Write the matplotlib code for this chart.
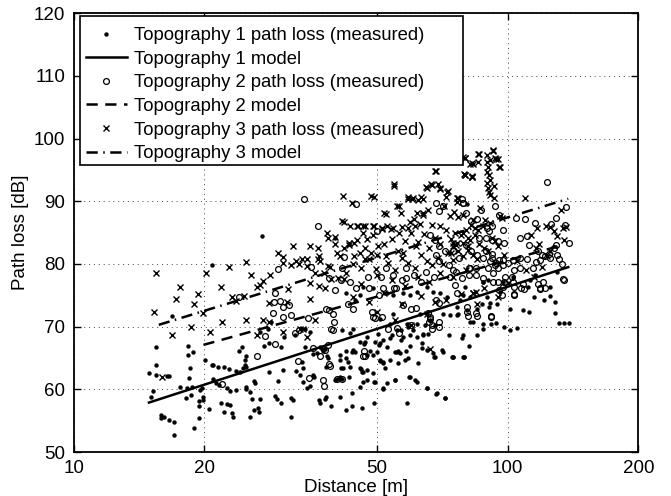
import matplotlib
matplotlib.use("Agg")
import matplotlib.pyplot as plt
from matplotlib.patches import Rectangle
from matplotlib.ticker import FixedLocator, FixedFormatter, NullLocator

plt.rcParams['font.family'] = ['Liberation Sans', 'DejaVu Sans']

# ---------------- data ----------------
# Topography 1 measured path loss (distance [m], loss [dB])
t1_dist = [14.9, 15.5, 15.5, 15.2, 15.1, 15.5, 16.4, 16.6, 15.9, 16.1, 15.9, 16.6, 17.0, 17.0,
           16.8, 17.6, 18.2, 18.7, 18.3, 18.3, 18.8, 18.5, 18.4, 18.1, 18.6, 19.4, 19.4, 19.9,
           19.9, 18.9, 19.4, 19.5, 19.7, 20.5, 20.1, 20.8, 20.9, 21.5, 22.2, 22.8, 23.6, 20.9,
           21.3, 21.6, 22.5, 22.9, 23.6, 21.8, 22.5, 22.9, 22.2, 23.3, 23.1, 24.1, 24.5, 24.8,
           25.0, 24.8, 24.9, 24.4, 25.0, 24.9, 25.5, 26.0, 26.2, 25.5, 26.0, 26.6, 26.7, 25.8,
           26.9, 28.2, 27.5, 28.2, 29.1, 29.4, 30.1, 30.4, 29.6, 31.6, 32.0, 31.6, 32.6, 33.7,
           33.2, 33.8, 34.4, 35.0, 35.5, 35.8, 35.5, 36.7, 36.9, 37.9, 38.2, 33.5, 34.1, 36.9,
           37.4, 37.9, 36.3, 38.4, 30.1, 30.5, 32.3, 34.1, 35.0, 28.1, 28.5, 26.8, 24.0, 27.2,
           20.8, 40.0,
           41.4, 43.3, 44.1, 42.5, 43.7, 41.1, 45.6, 46.6, 47.3, 49.4, 50.6, 51.7, 53.5, 55.5,
           56.9, 59.0, 60.6, 61.7, 63.9, 65.6, 63.3, 65.0, 67.3, 70.4, 74.9, 79.0, 68.0, 50.8,
           51.5, 52.1, 47.3, 46.1, 45.6, 49.0, 47.3, 49.4, 45.6, 41.1, 43.7, 51.7, 55.0, 59.5,
           61.1, 65.0, 68.6, 71.7, 41.8, 41.1, 55.0, 56.4, 55.9, 59.0, 53.5, 49.9, 50.8, 53.5,
           54.5, 58.5, 61.7, 64.5, 66.2, 68.0, 62.8, 71.0, 73.6, 76.3, 77.6, 79.0, 72.3, 69.8,
           67.3, 65.0, 61.7, 59.5, 57.4, 54.5, 52.6, 49.0, 46.5, 45.6, 44.5, 42.3,
           39.1, 42.5, 43.7, 46.1, 49.3, 58.5, 68.3, 71.6, 51.7, 65.0, 52.6, 55.0, 59.3, 61.7,
           46.5, 49.3, 62.0, 67.7, 71.0, 74.9, 79.4, 55.9, 58.3, 58.0, 50.8, 51.5, 45.8, 46.3,
           40.0, 40.4, 41.4, 43.1, 41.2, 43.3, 38.2, 38.6, 37.5, 41.1, 42.4, 42.8, 47.3, 49.0,
           48.1, 43.9, 44.4, 52.6, 55.5, 63.3, 59.5, 46.9, 50.8, 50.3, 54.0, 56.9, 57.3, 59.5,
           63.9, 73.3, 79.0,
           78.3, 74.6, 79.3, 81.4, 84.8, 87.8, 87.5, 91.5, 93.9, 98.0, 101.2, 105.2, 101.2, 108.6,
           111.9, 115.1, 121.4, 125.1, 128.4, 128.6, 91.0, 90.7, 94.3, 87.1, 84.8, 87.8, 80.4,
           81.9, 83.3, 76.3, 76.9, 131.4, 134.9, 138.4, 79.7, 87.8, 90.2, 97.6, 103.0, 112.5,
           115.5, 129.6, 111.5, 125.1, 95.9, 81.9, 89.4, 80.4]
t1_loss = [62.6, 63.9, 66.8, 59.8, 58.8, 62.3, 62.2, 62.1, 55.9, 55.6, 55.5, 55.1, 54.8, 52.7,
           71.7, 60.4, 60.2, 60.4, 67.0, 65.5, 66.0, 63.4, 61.8, 58.7, 59.1, 58.2, 57.4, 58.8,
           58.3, 53.9, 55.5, 59.9, 60.3, 56.8, 64.7, 63.9, 63.9, 63.6, 63.6, 63.3, 63.0, 61.6,
           61.0, 60.7, 60.2, 59.8, 59.9, 57.9, 57.7, 57.5, 56.4, 55.6, 56.2, 62.8, 63.4, 63.9,
           63.6, 64.7, 65.3, 66.8, 60.4, 60.0, 59.6, 61.4, 61.0, 55.6, 56.7, 57.0, 56.4, 58.5,
           58.5, 62.8, 66.9, 67.4, 59.0, 58.4, 57.8, 63.1, 61.4, 58.7, 58.3, 55.6, 63.0, 63.4,
           62.3, 61.2, 60.3, 60.5, 62.3, 61.9, 65.6, 58.3, 57.8, 58.4, 58.8, 64.4, 66.8, 66.8,
           66.4, 66.4, 65.8, 65.3, 66.8, 68.4, 68.7, 69.6, 69.2, 69.7, 70.8, 69.2, 66.2, 84.5,
           79.8, 84.1,
           69.5, 69.0, 69.7, 66.2, 66.0, 64.7, 67.6, 67.2, 68.3, 67.6, 67.1, 67.9, 68.2, 69.5,
           69.5, 70.0, 69.5, 68.4, 68.7, 68.9, 66.6, 66.3, 65.8, 66.3, 65.1, 65.2, 65.1, 64.7,
           64.2, 63.4, 63.1, 62.8, 63.4, 62.6, 61.5, 61.2, 60.4, 58.8, 59.4, 60.2, 61.5, 62.0,
           61.5, 60.3, 59.4, 58.7, 63.4, 62.0, 66.0, 65.8, 64.2, 65.0, 64.7, 66.0, 71.3, 70.5,
           72.1, 70.5, 70.5, 70.3, 71.1, 70.3, 72.1, 72.1, 71.9, 73.2, 74.3, 75.1, 74.8, 75.3,
           75.6, 76.4, 75.6, 75.1, 75.3, 75.1, 75.3, 76.1, 76.4, 75.1, 74.3, 75.3,
           57.4, 56.7, 57.4, 57.0, 57.9, 57.9, 59.3, 58.6, 60.0, 60.2, 61.0, 61.5, 61.9, 61.2,
           61.2, 61.2, 64.2, 65.1, 66.0, 65.1, 65.1, 66.2, 66.1, 64.7, 64.5, 64.4, 63.2, 62.8,
           61.5, 61.7, 61.7, 61.9, 63.4, 63.5, 63.6, 65.0, 66.2, 65.5, 65.0, 64.4, 65.5, 65.5,
           66.2, 66.3, 65.9, 66.8, 66.0, 67.4, 66.9, 67.6, 67.4, 68.9, 68.7, 67.9, 68.3, 68.7,
           68.9, 68.7, 68.7,
           68.2, 65.2, 65.2, 66.9, 68.6, 69.6, 70.4, 70.4, 70.6, 70.0, 69.5, 69.8, 72.9, 72.7,
           72.3, 74.8, 74.3, 74.9, 74.0, 72.2, 73.8, 73.2, 73.7, 73.6, 72.9, 77.2, 72.7,
           70.8, 70.8, 71.9, 72.1, 70.6, 70.6, 70.6, 76.4, 77.1, 77.4, 77.2, 78.0, 77.4,
           78.2, 78.8, 76.4, 76.4, 75.6, 74.8, 74.8, 89.6]

# Topography 2 measured path loss
t2_dist = [123.0, 136.5, 93.5, 87.0, 78.8, 95.3, 97.8, 104.6, 109.5, 115.7, 125.7, 129.0, 135.4,
           107.0, 112.2, 110.5, 117.6, 119.7, 122.2, 124.7, 128.1, 129.5, 138.2, 116.5, 131.0,
           134.3, 100.4, 103.5, 107.0, 110.5, 92.1, 90.9, 97.8, 94.1, 98.5, 102.5, 108.6, 117.6,
           120.6, 119.0, 92.5, 95.3, 97.7, 103.5, 107.2, 81.9, 84.6, 87.8, 90.2, 93.5,
           44.7, 68.3, 79.0, 78.6, 50.0, 71.1, 69.6, 80.0, 82.4, 84.9, 89.8, 92.0, 90.5, 86.1,
           88.9, 92.0, 95.1, 98.3, 66.1, 67.9, 69.6, 71.8, 74.7, 77.4, 80.0, 82.4, 84.9, 88.9,
           68.3, 69.6, 73.4, 76.1, 78.6, 81.5, 60.9, 63.2, 64.9, 67.5, 57.0, 58.4, 52.4, 51.0,
           54.3, 55.2, 47.6, 48.0, 44.8, 43.2,
           36.5, 29.5, 24.0, 28.9, 29.8, 30.3, 31.4, 35.3, 38.7, 41.6, 30.3, 31.7, 34.7, 38.7,
           39.7, 32.3, 33.1, 40.1, 42.0, 41.3, 34.0, 29.1, 28.8,
           26.4, 21.9, 27.6, 29.1, 32.8, 34.8, 37.6,
           42.8, 43.9, 48.8, 49.5, 46.6, 55.7, 57.3, 59.9, 61.6, 68.3, 69.6, 65.5, 66.1, 66.8,
           69.3, 80.7, 50.5, 51.5, 54.7, 58.2,
           37.7, 38.9, 40.5, 41.4, 46.4, 37.9, 39.6, 39.2, 49.0, 51.2, 53.0, 56.2, 60.0, 66.8,
           69.3, 66.3, 65.8, 96.8, 103.5, 91.3, 80.5, 38.2, 39.6,
           81.2, 84.4, 85.1, 91.5, 103.5, 108.9, 118.9, 121.6, 134.8, 133.3, 114.6, 118.9, 125.0,
           129.6, 95.6, 97.6, 103.0, 106.6, 87.6, 91.8, 81.6, 84.4, 95.1, 98.0, 102.7, 92.4, 95.1,
           74.9, 73.6, 75.6, 76.3, 38.8, 37.0, 38.6, 35.6, 47.0]
t2_loss = [93.0, 89.1, 89.3, 88.6, 89.7, 87.8, 85.4, 87.3, 87.1, 86.6, 86.4, 87.3, 86.2,
           84.1, 83.0, 84.4, 82.0, 81.5, 81.2, 81.6, 82.6, 83.0, 83.4, 80.3, 80.8,
           77.6, 80.2, 79.0, 79.4, 80.8, 81.6, 80.4, 80.7, 80.2, 77.9, 77.9, 76.8, 76.8,
           77.1, 76.2, 77.1, 75.9, 76.4, 76.4, 76.2, 79.4, 79.4, 77.8, 79.4, 79.9,
           89.6, 89.7, 89.8, 90.4, 85.2, 89.2, 88.4, 88.1, 86.8, 87.1, 85.7, 86.0, 85.2, 84.1,
           84.1, 83.9, 83.6, 83.4, 84.7, 83.9, 82.8, 82.0, 82.0, 81.0, 83.1, 82.0, 81.5, 82.0,
           81.5, 80.4, 79.9, 78.8, 77.8, 79.4, 78.3, 77.2, 78.8, 78.0, 77.5, 79.4, 79.4, 78.0,
           78.3, 76.2, 78.0, 76.2, 76.2, 77.2,
           86.0, 79.2, 74.8, 73.9, 74.1, 73.2, 73.5, 79.5, 77.8, 79.4, 71.6, 71.9, 71.4, 72.7,
           70.8, 69.0, 69.4, 75.9, 81.1, 77.5, 90.3, 75.4, 72.2,
           65.4, 60.8, 68.5, 67.2, 64.5, 61.8, 61.5,
           73.6, 72.9, 72.4, 71.4, 66.2, 69.8, 73.5, 72.9, 73.0, 74.3, 73.8, 72.2, 71.5, 70.3,
           70.8, 73.2, 75.1, 76.2, 76.2, 77.8,
           60.6, 63.7, 61.6, 61.6, 65.3, 66.3, 69.5, 69.7, 71.6, 71.6, 69.7, 69.0, 70.3, 69.6,
           70.0, 71.3, 70.8, 75.1, 75.1, 71.7, 72.4, 72.9, 72.1,
           71.7, 72.2, 71.7, 71.6, 75.2, 76.0, 76.0, 76.1, 77.4, 80.0, 79.3, 80.7, 80.9,
           81.4, 80.7, 79.8, 80.6, 80.9, 80.9, 80.9, 78.2, 78.2, 77.2, 77.2, 77.2, 78.5, 79.3,
           79.0, 78.0, 76.6, 75.3, 64.0, 65.3, 67.1, 66.6, 65.4]

# Topography 3 measured path loss
t3_dist = [15.5, 15.3, 17.6, 17.2, 18.9, 19.3, 20.2, 18.6, 21.8, 22.8, 24.9, 25.6, 26.5, 23.1,
           24.7, 27.3, 28.4, 29.6, 30.4, 30.3, 32.0, 31.6, 32.6, 33.5, 34.4, 35.0, 36.6, 36.8,
           28.2, 31.0, 27.3, 24.9, 21.9, 16.8, 20.6, 28.2, 26.5, 30.3, 33.2, 33.8, 34.4, 36.0,
           16.0, 19.9, 23.6, 26.8, 31.1, 33.0, 34.5, 35.0, 35.9, 36.5, 36.7, 37.8, 38.4, 38.6,
           38.6, 39.1, 40.0, 40.5, 40.6, 41.4, 42.0, 42.5, 43.1, 44.2, 44.3, 45.3, 45.6, 46.5,
           46.4, 46.9, 47.5, 48.5, 49.1, 48.5, 49.6, 50.2, 51.3, 51.9, 52.5, 53.7, 54.6, 55.6,
           56.2, 56.9, 57.5, 58.8, 59.5, 60.2, 60.9, 61.6, 63.0, 63.7, 64.8, 66.6, 67.9, 69.0,
           69.7, 71.3, 72.2, 72.6, 73.8, 74.7, 75.5, 76.4, 79.0, 79.5, 81.8, 82.7, 85.6,
           41.7, 49.2, 54.7, 65.0, 67.0, 69.8, 72.9, 59.0, 60.6, 62.2, 63.9, 76.3, 76.9, 68.3,
           79.7, 83.0, 79.7, 82.6, 85.5, 92.3, 89.4, 93.9, 95.8, 43.7, 52.4, 56.2, 61.7, 63.9,
           65.6, 41.9, 43.3, 44.9, 46.9, 49.0, 51.2, 52.6, 54.5, 57.0, 59.0, 61.1, 62.8, 66.8,
           69.8,
           136.2, 134.4, 125.0, 122.7, 116.8, 113.0, 118.0, 123.2, 116.3, 95.9, 96.8, 86.4, 77.0,
           78.7, 75.2, 83.3, 82.5, 84.0, 85.5, 87.8, 88.6, 91.0, 79.0, 81.2, 78.7, 80.9, 74.9,
           76.3, 74.2, 91.8, 93.4, 83.3, 133.0, 109.5, 83.0, 84.4,
           92.3, 89.4, 91.0, 93.4, 95.1, 95.6, 90.2, 89.4, 90.7, 91.0, 89.7, 90.2, 90.7, 91.0,
           92.9, 93.1, 85.8, 79.7, 82.6, 79.7, 82.8,
           40.0, 43.0, 45.0, 47.0, 49.0, 52.0, 54.0, 56.0, 58.0, 60.0, 62.0, 64.0, 66.0, 68.0,
           70.0, 72.0, 74.0, 76.0, 78.0, 80.0, 82.0, 84.0, 86.0, 88.0, 37.0, 39.0, 41.0, 44.0,
           46.0, 48.0, 50.0, 53.0, 55.0, 57.0, 59.0, 61.0, 63.0, 65.0, 67.0, 69.0, 71.0, 73.0,
           75.0, 77.0, 79.0, 81.0, 83.0, 85.0, 90.0, 95.0, 98.0, 35.0, 38.0, 42.0, 46.0, 50.0,
           54.0, 58.0, 62.0, 66.0, 70.0, 75.0, 80.0, 44.0, 48.0, 52.0, 57.0, 63.0, 68.0, 78.0,
           88.0, 100.0, 110.0, 115.0, 105.0, 120.0, 125.0, 130.0, 135.0, 128.0, 50.0, 55.0, 60.0,
           65.0, 72.0, 85.0, 95.0, 66.1]
t3_loss = [78.6, 72.3, 76.3, 74.4, 73.6, 75.2, 78.6, 70.0, 76.3, 79.6, 80.3, 78.2, 76.3, 74.8,
           74.9, 77.3, 78.2, 81.7, 81.1, 80.2, 82.9, 79.8, 80.4, 80.8, 80.8, 82.9, 82.5, 81.3,
           73.8, 74.0, 71.0, 71.1, 70.8, 68.7, 69.2, 70.8, 68.6, 69.2, 69.7, 69.6, 68.4, 71.0,
           61.9, 72.2, 74.1, 76.6, 76.0, 80.0, 79.7, 74.4, 78.6, 80.8, 76.5, 78.6, 85.0, 84.2,
           79.7, 77.6, 83.2, 81.8, 77.8, 86.9, 82.6, 78.6, 83.4, 81.3, 83.4, 86.1, 81.8, 86.1,
           85.0, 80.8, 84.0, 90.9, 86.1, 81.8, 79.2, 82.9, 85.6, 88.2, 81.3, 85.6, 92.8, 89.3,
           85.0, 88.2, 81.8, 90.7, 86.7, 90.4, 87.2, 82.9, 90.7, 88.2, 92.3, 92.8, 94.9, 92.8,
           92.0, 89.3, 90.7, 91.5, 87.7, 83.4, 85.0, 89.9, 97.0, 94.4, 96.0, 94.1, 96.3,
           90.9, 90.7, 92.4, 92.2, 92.6, 92.2, 91.6, 90.4, 90.5, 90.2, 90.4, 90.6, 90.5, 94.8,
           96.9, 96.0, 94.2, 93.8, 97.5, 98.1, 96.3, 96.7, 95.5, 89.7, 88.0, 89.3, 88.1, 87.8,
           88.6, 86.7, 86.1, 86.0, 86.1, 86.0, 85.7, 86.0, 85.7, 85.9, 85.7, 86.0, 86.4, 86.2,
           86.1,
           85.9, 85.7, 85.9, 86.1, 85.7, 84.7, 83.2, 81.3, 82.5, 87.7, 87.3, 88.9, 87.5,
           87.8, 88.3, 87.0, 86.2, 85.7, 85.4, 86.1, 87.0, 86.5, 84.9, 84.1, 83.3, 82.8, 82.8,
           83.3, 81.7, 84.1, 83.6, 75.3, 88.6, 90.6, 75.3, 75.6,
           98.2, 97.4, 96.6, 96.9, 96.7, 95.5, 95.5, 94.7, 94.2, 93.4, 92.9, 92.1, 91.5, 91.0,
           92.4, 90.5, 97.5, 96.9, 96.1, 94.2, 93.9,
           84.3, 83.0, 83.8, 82.5, 84.6, 83.2, 84.0, 82.0, 83.7, 85.0, 83.5, 84.8, 82.6, 84.2,
           83.2, 85.4, 84.0, 83.1, 84.6, 85.5, 83.9, 84.7, 83.2, 82.5, 80.5, 79.6, 81.2, 80.0,
           79.4, 80.8, 81.5, 80.2, 79.0, 81.0, 80.1, 79.3, 81.4, 80.5, 79.8, 81.0, 80.0, 81.7,
           80.6, 82.0, 81.2, 82.3, 81.5, 80.8, 82.0, 82.8, 81.4, 77.0, 76.2, 77.6, 76.8, 78.2,
           77.4, 76.5, 78.0, 77.2, 78.6, 77.9, 79.0, 74.8, 74.0, 75.3, 73.6, 74.9, 73.9, 75.2,
           76.2, 77.0, 79.0, 78.0, 80.5, 79.5, 82.0, 84.5, 83.8, 85.2, 72.3, 71.0, 70.2,
           72.1, 74.3, 73.7, 74.8, 66.5]

# Fitted models (end points)
m1_dist = [14.9, 137.9]
m1_loss = [57.9, 79.5]
m2_dist = [19.9, 132.0]
m2_loss = [67.1, 82.9]
m3_dist = [15.7, 137.9]
m3_loss = [70.3, 90.4]

x_ticks = [10, 20, 50, 100, 200]
x_ticklabels = ['10', '20', '50', '100', '200']
y_ticks = [50, 60, 70, 80, 90, 100, 110, 120]

labels = ['Topography 1 path loss (measured)', 'Topography 1 model',
          'Topography 2 path loss (measured)', 'Topography 2 model',
          'Topography 3 path loss (measured)', 'Topography 3 model']

# ---------------- figure ----------------
W, H = 671, 496
fig = plt.figure(figsize=(W / 100, H / 100), dpi=100)
ax = fig.add_axes([73.8 / W, 1 - 452.1 / H, (638.3 - 73.8) / W, (452.1 - 13.2) / H])
ax.set_xscale('log')
ax.set_xlim(10, 200)
ax.set_ylim(50, 120)

fs = 13.5
h1, = ax.plot(t1_dist, t1_loss, linestyle='none', marker='o', markersize=2.8,
              markerfacecolor='black', markeredgecolor='black', markeredgewidth=0.3)
h2, = ax.plot(t2_dist, t2_loss, linestyle='none', marker='o', markersize=4.2,
              markerfacecolor='none', markeredgecolor='black', markeredgewidth=0.9)
h3, = ax.plot(t3_dist, t3_loss, linestyle='none', marker='x', markersize=3.8,
              color='black', markeredgewidth=1.0)
l1, = ax.plot(m1_dist, m1_loss, color='black', linewidth=1.8, linestyle='-')
l2, = ax.plot(m2_dist, m2_loss, color='black', linewidth=1.8, linestyle=(0, (4.5, 3.0)))
l3, = ax.plot(m3_dist, m3_loss, color='black', linewidth=1.8,
              linestyle=(0, (4.5, 2.2, 0.6, 2.2)))

ax.xaxis.set_major_locator(FixedLocator(x_ticks))
ax.xaxis.set_major_formatter(FixedFormatter(x_ticklabels))
ax.xaxis.set_minor_locator(NullLocator())
ax.set_yticks(y_ticks)
ax.tick_params(axis='both', which='major', direction='in', length=5, width=1.0,
               top=True, right=True, labelsize=fs, pad=6, colors='black')
ax.grid(True, which='major', linestyle=(0, (1, 4)), color='#444444', linewidth=0.7)
for sp in ax.spines.values():
    sp.set_linewidth(1.3)

ax.set_xlabel('Distance [m]', fontsize=fs, labelpad=1)
ax.set_ylabel('Path loss [dB]', fontsize=fs, labelpad=4)

# legend frame (MATLAB style, wider than the text)
frame = Rectangle((80 / W, 1 - 165 / H), (463 - 80) / W, (165 - 16) / H,
                  transform=fig.transFigure, facecolor='white', edgecolor='black',
                  linewidth=1.2, zorder=4)
fig.patches.append(frame)

leg = fig.legend([h1, l1, h2, l2, h3, l3], labels, loc='upper left',
                 bbox_to_anchor=(86 / W, 1 - 27 / H), bbox_transform=fig.transFigure,
                 frameon=False, fontsize=13.3, borderpad=0, borderaxespad=0,
                 labelspacing=0.36, handlelength=2.2, handletextpad=0.4,
                 numpoints=1)
leg.set_zorder(5)

fig.savefig('out.png', dpi=100)
